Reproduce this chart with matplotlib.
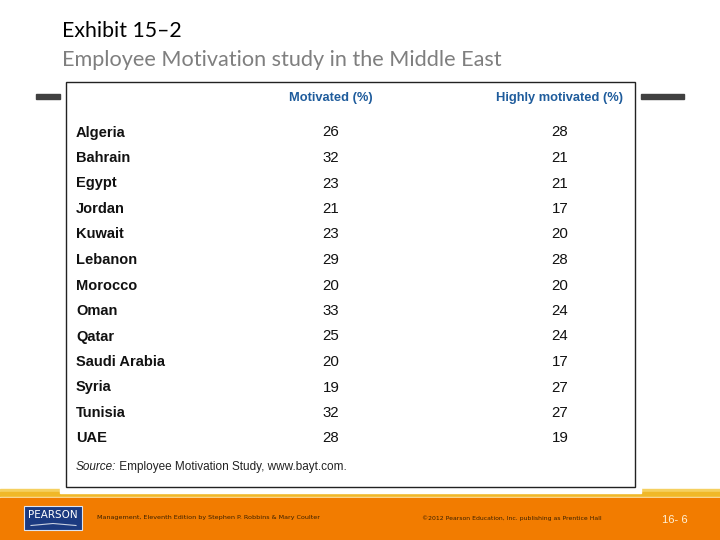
import matplotlib
matplotlib.use("Agg")
import matplotlib.pyplot as plt
from matplotlib.patches import Rectangle
from matplotlib import font_manager as fm

countries = ["Algeria", "Bahrain", "Egypt", "Jordan", "Kuwait", "Lebanon", "Morocco",
             "Oman", "Qatar", "Saudi Arabia", "Syria", "Tunisia", "UAE"]
motivated = [26, 32, 23, 21, 23, 29, 20, 33, 25, 20, 19, 32, 28]
highly_motivated = [28, 21, 21, 17, 20, 28, 20, 24, 24, 17, 27, 27, 19]
col_headers = ["Motivated (%)", "Highly motivated (%)"]
title = "Exhibit 15\u20132"
subtitle = "Employee Motivation study in the Middle East"
source_label = "Source:"
source_text = " Employee Motivation Study, www.bayt.com."
footer_left = "Management, Eleventh Edition by Stephen P. Robbins & Mary Coulter"
footer_mid = "\u00a92012 Pearson Education, Inc. publishing as Prentice Hall"
page_no = "16- 6"

names = {f.name for f in fm.fontManager.ttflist}
narrow = "Liberation Sans Narrow" if "Liberation Sans Narrow" in names else "Liberation Sans"
title_font = "Lato"

fig = plt.figure(figsize=(7.2, 5.4), dpi=100)
ax = fig.add_axes([0, 0, 1, 1])
ax.set_xlim(0, 720)
ax.set_ylim(540, 0)
ax.axis("off")

# Titles
ax.text(62, 31, title, fontsize=15.3, family=title_font, color="black", va="center", ha="left")
ax.text(62, 60, subtitle, fontsize=15.6, family=title_font, color="#7f7f7f", va="center", ha="left")

# bottom band
ax.add_patch(Rectangle((0, 489), 720, 3, color="#f5d060", zorder=1))
ax.add_patch(Rectangle((0, 492), 720, 5, color="#f0b828", zorder=1))
ax.add_patch(Rectangle((0, 497), 720, 1, color="#fde9b0", zorder=1))
ax.add_patch(Rectangle((0, 498), 720, 42, color="#f27c00", zorder=1))

# white panel & gray bars
ax.add_patch(Rectangle((60, 78), 581, 415, color="white", zorder=2))
ax.add_patch(Rectangle((36, 94), 24, 5, color="#404040", zorder=2))
ax.add_patch(Rectangle((641, 94), 43, 5, color="#404040", zorder=2))
ax.add_patch(Rectangle((65.5, 82), 569, 405, facecolor="white", edgecolor="#222222", lw=1.0, zorder=3))

# table
col_x = [331, 560]
for cx, h in zip(col_x, col_headers):
    ax.text(cx, 98, h, fontsize=9.3, family=narrow, weight="bold", color="#1f5c9c",
            ha="center", va="center", zorder=4)

y0, dy = 132.5, 25.5
for i, (c, m, hm) in enumerate(zip(countries, motivated, highly_motivated)):
    y = y0 + i * dy
    ax.text(76, y, c, fontsize=10.5, family=narrow, weight="bold", color="#111111",
            ha="left", va="center", zorder=4)
    ax.text(col_x[0], y, str(m), fontsize=10.8, family=narrow, color="#111111",
            ha="center", va="center", zorder=4)
    ax.text(col_x[1], y, str(hm), fontsize=10.8, family=narrow, color="#111111",
            ha="center", va="center", zorder=4)

t1 = ax.text(76, 467, source_label, fontsize=8.5, family=narrow, style="italic", color="#222222",
             ha="left", va="center", zorder=4)
ax.annotate(source_text, xy=(1, 0.5), xycoords=t1, fontsize=8.5, family=narrow, color="#222222",
            ha="left", va="center", zorder=4)

# Pearson logo
ax.add_patch(Rectangle((24, 506), 58, 24, facecolor="#1b3a80", edgecolor="#dde4f0", lw=0.8, zorder=4))
ax.text(53, 515.5, "PEARSON", fontsize=7.5, family="DejaVu Sans", color="white", ha="center",
        va="center", zorder=5)
ax.plot([31, 53, 76], [525.5, 523.5, 525.5], color="#c8d0e0", lw=0.8, zorder=5)

ax.text(97, 518, footer_left, fontsize=4.6, family="DejaVu Sans", color="#3a2000", ha="left",
        va="center", zorder=5)
ax.text(422, 518, footer_mid, fontsize=4.45, family="DejaVu Sans", color="#3a2000", ha="left",
        va="center", zorder=5)
ax.text(662, 520, page_no, fontsize=8, family=narrow, color="#fff2d8", ha="left",
        va="center", zorder=5)

fig.savefig("out.png", dpi=100)
